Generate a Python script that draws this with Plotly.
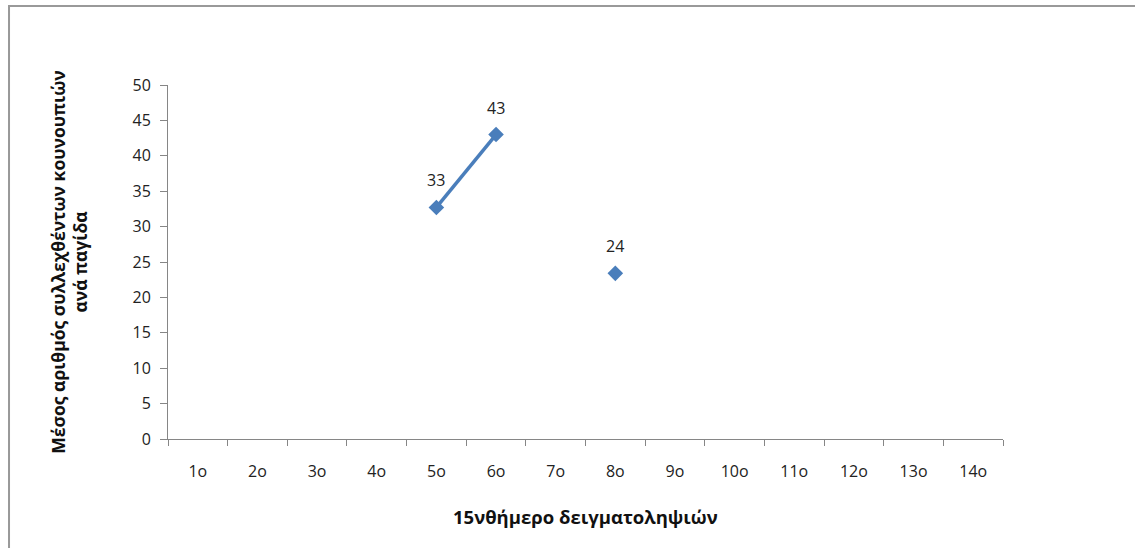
import plotly.graph_objects as go

categories = ["1ο", "2ο", "3ο", "4ο", "5ο", "6ο", "7ο", "8ο", "9ο", "10ο", "11ο", "12ο", "13ο", "14ο"]
values = [None, None, None, None, 32.7, 43.0, None, 23.4, None, None, None, None, None, None]
value_labels = ["", "", "", "", "33", "43", "", "24", "", "", "", "", "", ""]
y_ticks = [0, 5, 10, 15, 20, 25, 30, 35, 40, 45, 50]

BLUE = "#4A7EBB"
AXIS = "#868686"
FONT = "Open Sans, Noto Sans, DejaVu Sans, sans-serif"

fig = go.Figure()
fig.add_trace(go.Scatter(
    x=categories, y=values, mode="lines+markers",
    line=dict(color=BLUE, width=3.5),
    marker=dict(symbol="diamond", size=12, color=BLUE),
    connectgaps=False, showlegend=False, hoverinfo="x+y",
))

for c, v, t in zip(categories, values, value_labels):
    if v is not None and t:
        fig.add_annotation(x=c, y=v, text=t, showarrow=False, yshift=27,
                           xanchor="center", yanchor="middle",
                           font=dict(family=FONT, size=16, color="#222222"))

# y-axis title
fig.add_annotation(xref="paper", yref="paper", x=-0.119, y=0.5,
                   xanchor="center", yanchor="middle",
                   text="<b>Μέσος αριθμός συλλεχθέντων κουνουπιών<br>ανά παγίδα</b>",
                   textangle=-90, showarrow=False,
                   font=dict(family=FONT, size=17.5, color="#111111"))
# x-axis title
fig.add_annotation(xref="paper", yref="paper", x=0.5, y=-0.22,
                   xanchor="center", yanchor="middle",
                   text="<b>15νθήμερο δειγματοληψιών</b>", showarrow=False,
                   font=dict(family=FONT, size=18.5, color="#111111"))

# outer chart border
fig.add_shape(type="path", xref="paper", yref="paper",
              path="M -0.1904,-0.4 L -0.1904,1.2232 L 1.3,1.2232",
              line=dict(color="#999999", width=2))

fig.update_layout(
    width=1135, height=548,
    margin=dict(l=168, r=132, t=85, b=109),
    plot_bgcolor="white", paper_bgcolor="white",
    font=dict(family=FONT, size=16, color="#222222"),
    xaxis=dict(
        type="category", categoryorder="array", categoryarray=categories,
        range=[-0.5, len(categories) - 0.5],
        showline=True, linecolor=AXIS, linewidth=1,
        ticks="outside", tickson="boundaries", ticklen=6, tickcolor=AXIS,
        showgrid=False, zeroline=False, ticklabelstandoff=18,
        tickfont=dict(family=FONT, size=16, color="#222222"),
    ),
    yaxis=dict(
        range=[0, 50], tickvals=y_ticks,
        showline=True, linecolor=AXIS, linewidth=1,
        ticks="outside", ticklen=7, tickcolor=AXIS,
        showgrid=False, zeroline=False, ticklabelstandoff=6,
        tickfont=dict(family=FONT, size=16, color="#222222"),
    ),
)

fig.write_html("out.html", config={"displayModeBar": False},
               post_script="document.body.style.margin='0';")
